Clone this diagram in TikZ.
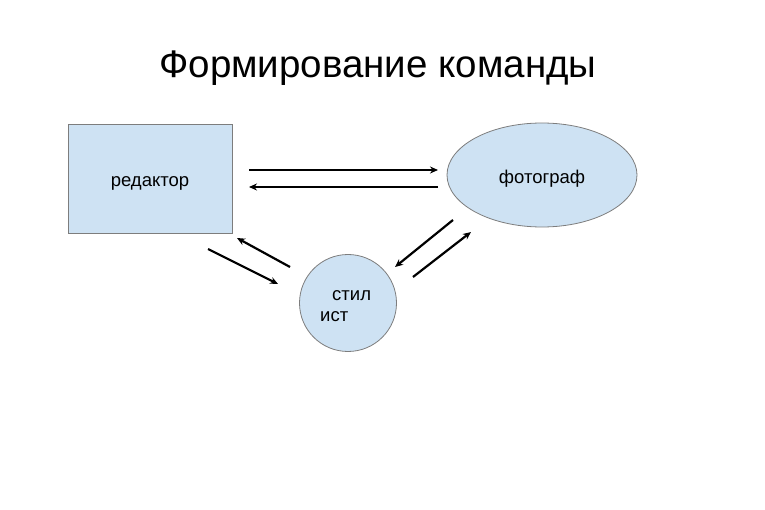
\documentclass[tikz,border=0pt]{standalone}
\usepackage{fontspec}
\setmainfont{Liberation Sans}
\usetikzlibrary{shapes.geometric,arrows.meta}
\definecolor{boxfill}{RGB}{206,226,243}
\definecolor{boxline}{RGB}{125,125,125}
\tikzset{
  shapebox/.style={draw=boxline, line width=0.8pt, fill=boxfill, font=\fontsize{18.5}{20}\selectfont, text=black},
  txt/.style={font=\fontsize{18.5}{20}\selectfont, text=black, inner sep=0pt},
  flow/.style={line width=2.2pt, -{Stealth[length=8pt,width=7pt]}}
}
\begin{document}
\begin{tikzpicture}[x=1pt,y=-1pt]
\useasboundingbox (0,0) rectangle (765,510);
\node[font=\fontsize{38.5}{46}\selectfont, anchor=base] (title) at (378,78) {Формирование команды};
\node[shapebox, rectangle, minimum width=164pt, minimum height=109pt, inner sep=0pt, text height=20pt, text depth=4pt] (ed) at (150,178.5) {редактор};
\node[shapebox, ellipse, minimum width=190pt, minimum height=104pt, inner sep=0pt, text height=21.5pt, text depth=4pt] (ph) at (542,175) {фотограф};
\node[shapebox, circle, minimum size=97pt, inner sep=0pt] (st) at (348,303) {};
\node[txt, anchor=base west] (st1) at (332,301) {стил};
\node[txt, anchor=base west] (st2) at (320,321) {ист};
\coordinate (a1s) at (249,170); \coordinate (a1e) at (438,170);
\coordinate (a2s) at (438,187); \coordinate (a2e) at (249,187);
\coordinate (a3s) at (290,267); \coordinate (a3e) at (237,238);
\coordinate (a4s) at (208,249); \coordinate (a4e) at (278,284);
\coordinate (a5s) at (453,220); \coordinate (a5e) at (395,267);
\coordinate (a6s) at (413,277); \coordinate (a6e) at (471,232);
\draw[flow] (a1s) -- (a1e);
\draw[flow] (a2s) -- (a2e);
\draw[flow] (a3s) -- (a3e);
\draw[flow] (a4s) -- (a4e);
\draw[flow] (a5s) -- (a5e);
\draw[flow] (a6s) -- (a6e);
\end{tikzpicture}
\end{document}
